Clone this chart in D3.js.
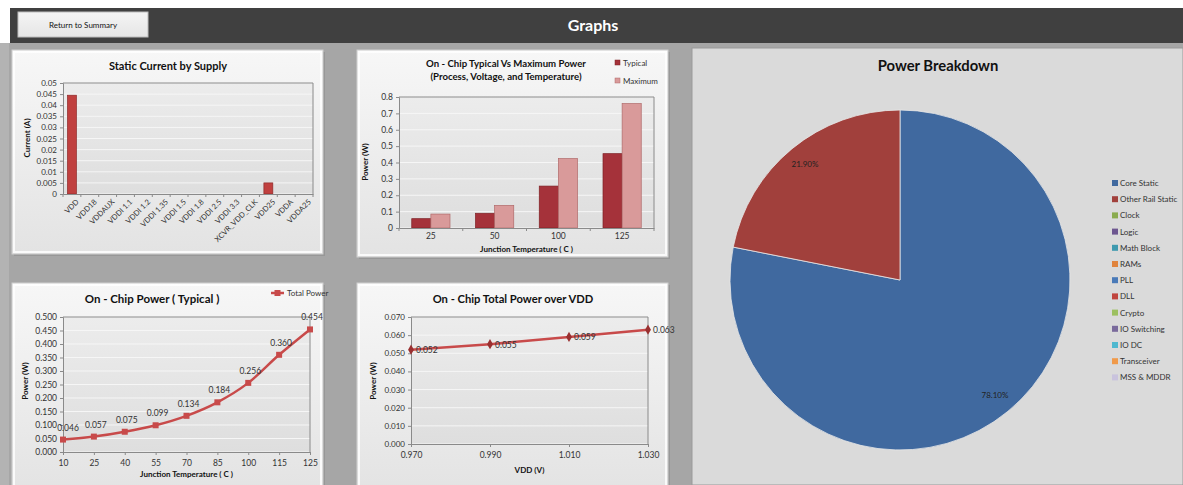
<!DOCTYPE html>
<html><head><meta charset="utf-8">
<script src="https://cdn.jsdelivr.net/npm/d3@7"></script>
<style>
body{margin:0;background:#fff;overflow:hidden}
svg{display:block;font-family:Lato,"Open Sans",sans-serif}
</style></head>
<body><svg id="c" width="1183" height="485"></svg>
<script>
// ---------- DATA ----------
const supplyCategories = ["VDD","VDD18","VDDAUX","VDDI 1.1","VDDI 1.2","VDDI 1.35","VDDI 1.5","VDDI 1.8","VDDI 2.5","VDDI 3.3","XCVR_VDD_CLK","VDD25","VDDA","VDDA25"];
const supplyCurrent = [0.0445,0,0,0,0,0,0,0,0,0,0,0.005,0,0];
const currentTicks = [0,0.005,0.01,0.015,0.02,0.025,0.03,0.035,0.04,0.045,0.05];

const pvtTemps = ["25","50","100","125"];
const pvtTypical = [0.057,0.09,0.256,0.454];
const pvtMaximum = [0.085,0.138,0.424,0.76];
const pvtTicks = [0,0.1,0.2,0.3,0.4,0.5,0.6,0.7,0.8];

const typTemps = ["10","25","40","55","70","85","100","115","125"];
const typPower = [0.046,0.057,0.075,0.099,0.134,0.184,0.256,0.360,0.454];
const typTicks = [0,0.05,0.1,0.15,0.2,0.25,0.3,0.35,0.4,0.45,0.5];

const vddVolts = [0.970,0.990,1.010,1.030];
const vddPower = [0.052,0.055,0.059,0.063];
const vddTicks = [0,0.01,0.02,0.03,0.04,0.05,0.06,0.07];

const breakdownNames = ["Core Static","Other Rail Static","Clock","Logic","Math Block","RAMs","PLL","DLL","Crypto","IO Switching","IO DC","Transceiver","MSS & MDDR"];
const breakdownValues = [78.1,21.9,0,0,0,0,0,0,0,0,0,0,0];
const breakdownColors = ["#40699f","#a1403c","#8aab4e","#6d5690","#3f9aaf","#e0843e","#4a7ab8","#c0453f","#9cc060","#7a6a9c","#4fb8cf","#f09a4a","#c9c3dd"];

// ---------- SETUP ----------
const svg = d3.select("#c");
const defs = svg.append("defs");
function grad(id, c1, c2){
  const g = defs.append("linearGradient").attr("id",id).attr("x1",0).attr("y1",0).attr("x2",0).attr("y2",1);
  g.append("stop").attr("offset",0).attr("stop-color",c1);
  g.append("stop").attr("offset",1).attr("stop-color",c2);
}
grad("pan","#f7f7f7","#e3e3e3");
grad("plot","#ececec","#dedede");
grad("btn","#f4f4f4","#e6e6e6");

// page background
svg.append("rect").attr("width",1183).attr("height",485).attr("fill","#fff");
svg.append("rect").attr("x",0).attr("y",43).attr("width",1183).attr("height",442).attr("fill","#a6a6a6");
svg.append("rect").attr("x",0).attr("y",43).attr("width",9).attr("height",442).attr("fill","#b3b3b3");
// header bar
svg.append("rect").attr("x",10).attr("y",8).attr("width",1173).attr("height",35).attr("fill","#404040");
svg.append("rect").attr("x",18).attr("y",12).attr("width",130).attr("height",25).attr("fill","url(#btn)").attr("stroke","#bdbdbd");
svg.append("text").attr("x",83).attr("y",28).attr("text-anchor","middle").attr("font-size",8).attr("fill","#111").text("Return to Summary");
svg.append("text").attr("x",593).attr("y",31).attr("text-anchor","middle").attr("font-size",16).attr("font-weight","bold").attr("fill","#fff").text("Graphs");

function panel(x,y,w,h){
  svg.append("rect").attr("x",x+2).attr("y",y+2).attr("width",w).attr("height",h).attr("fill","#888").attr("opacity",0.5);
  svg.append("rect").attr("x",x).attr("y",y).attr("width",w).attr("height",h).attr("fill","url(#pan)").attr("stroke","#cfcfcf");
  svg.append("rect").attr("x",x+2).attr("y",y+2).attr("width",w-4).attr("height",h-4).attr("fill","none").attr("stroke","#fff").attr("stroke-width",2).attr("opacity",0.8);
}
panel(12,50,311,204);
panel(357,50,311,207);
panel(12,283,311,210);
panel(357,283,311,210);

function plotArea(x0,x1,y0,y1){
  svg.append("rect").attr("x",x0).attr("y",y0).attr("width",x1-x0).attr("height",y1-y0).attr("fill","url(#plot)");
}
function yAxis(scale, ticks, x0, x1, fmt, fs){
  const g = svg.append("g");
  g.selectAll("line.grid").data(ticks).join("line").attr("class","grid")
    .attr("x1",x0).attr("x2",x1).attr("y1",d=>scale(d)).attr("y2",d=>scale(d))
    .attr("stroke","#f6f6f6").attr("stroke-width",1);
  const ax = svg.append("g").attr("transform",`translate(${x0},0)`)
    .call(d3.axisLeft(scale).tickValues(ticks).tickFormat(fmt).tickSize(3).tickPadding(3));
  ax.select(".domain").attr("stroke","#8a8a8a");
  ax.selectAll(".tick line").attr("stroke","#8a8a8a");
  ax.selectAll("text").attr("font-size",fs).attr("fill","#333").attr("font-family","Lato, sans-serif");
  return ax;
}
function frame(x0,x1,y0,y1){
  svg.append("path").attr("d",`M${x0},${y0}H${x1}V${y1}`).attr("fill","none").attr("stroke","#8a8a8a");
}
function title(x,y,t,fs){
  svg.append("text").attr("x",x).attr("y",y).attr("text-anchor","middle").attr("font-size",fs).attr("font-weight","bold").attr("fill","#111").text(t);
}
function yTitle(x,y,t){
  svg.append("text").attr("transform",`translate(${x},${y}) rotate(-90)`).attr("text-anchor","middle")
    .attr("font-size",8).attr("font-weight","bold").attr("fill","#111").text(t);
}

// ---------- CHART 1: Static Current by Supply ----------
{
  const X0=63,X1=313,Y0=83,Y1=194;
  plotArea(X0,X1,Y0,Y1);
  const y = d3.scaleLinear().domain([0,0.05]).range([Y1,Y0]);
  const x = d3.scaleBand().domain(supplyCategories).range([X0,X1]).paddingInner(0.5).paddingOuter(0.25);
  yAxis(y,currentTicks,X0,X1,d=>d3.format("")(+d.toFixed(3)),8);
  frame(X0,X1,Y0,Y1);
  svg.append("g").selectAll("rect").data(supplyCategories).join("rect")
    .attr("x",d=>x(d)).attr("width",x.bandwidth())
    .attr("y",(d,i)=>y(supplyCurrent[i])).attr("height",(d,i)=>Y1-y(supplyCurrent[i]))
    .attr("fill","#c0403f").attr("stroke","#8e2a2a").attr("stroke-width",0.7);
  const xa = svg.append("g").attr("transform",`translate(0,${Y1})`).call(d3.axisBottom(x).tickSize(0).tickPadding(4));
  xa.select(".domain").attr("stroke","#8a8a8a");
  const step = x.step();
  xa.selectAll(".tk").data(d3.range(supplyCategories.length+1)).join("line")
    .attr("x1",i=>X0+i*step).attr("x2",i=>X0+i*step).attr("y1",0).attr("y2",3).attr("stroke","#8a8a8a");
  xa.selectAll(".tick text").attr("font-size",7.5).attr("fill","#333").attr("font-family","Lato, sans-serif")
    .attr("text-anchor","end").attr("dy","0.3em").attr("transform","translate(3,4) rotate(-45)");
  title(168,70,"Static Current by Supply",11);
  yTitle(30,138,"Current (A)");
}

// ---------- CHART 2: Typical vs Maximum ----------
{
  const X0=399,X1=654,Y0=97,Y1=228;
  plotArea(X0,X1,Y0,Y1);
  const y = d3.scaleLinear().domain([0,0.8]).range([Y1,Y0]);
  const x = d3.scaleBand().domain(pvtTemps).range([X0,X1]).paddingInner(0.4).paddingOuter(0.2);
  const xs = d3.scaleBand().domain(["Typical","Maximum"]).range([0,x.bandwidth()]);
  yAxis(y,pvtTicks,X0,X1,d=>d3.format("")(+d.toFixed(1)),8.5);
  frame(X0,X1,Y0,Y1);
  const series = [["Typical",pvtTypical,"#a5323a","#7e2226"],["Maximum",pvtMaximum,"#d99a9a","#b06a6a"]];
  series.forEach(([name,vals,fill,stroke])=>{
    svg.append("g").selectAll("rect").data(pvtTemps).join("rect")
      .attr("x",d=>x(d)+xs(name)).attr("width",xs.bandwidth())
      .attr("y",(d,i)=>y(vals[i])).attr("height",(d,i)=>Y1-y(vals[i]))
      .attr("fill",fill).attr("stroke",stroke).attr("stroke-width",0.7);
  });
  const xa = svg.append("g").attr("transform",`translate(0,${Y1})`).call(d3.axisBottom(x).tickSize(0).tickPadding(5));
  xa.select(".domain").attr("stroke","#8a8a8a");
  xa.selectAll(".tk").data(d3.range(pvtTemps.length+1)).join("line")
    .attr("x1",i=>X0+i*(X1-X0)/pvtTemps.length).attr("x2",i=>X0+i*(X1-X0)/pvtTemps.length).attr("y1",0).attr("y2",3).attr("stroke","#8a8a8a");
  xa.selectAll(".tick text").attr("font-size",8.5).attr("fill","#333").attr("font-family","Lato, sans-serif");
  title(506,67,"On - Chip Typical Vs Maximum Power",9.6);
  title(506,80,"(Process, Voltage, and Temperature)",9.6);
  svg.append("text").attr("x",(X0+X1)/2).attr("y",252).attr("text-anchor","middle").attr("font-size",8).attr("font-weight","bold").attr("fill","#111").text("Junction Temperature ( C )");
  yTitle(368,162,"Power (W)");
  series.forEach(([name,vals,fill,stroke],i)=>{
    svg.append("rect").attr("x",615).attr("y",60+i*18).attr("width",5).attr("height",5).attr("fill",fill).attr("stroke",stroke).attr("stroke-width",0.5);
    svg.append("text").attr("x",623).attr("y",66+i*18).attr("font-size",8).attr("fill","#333").text(name);
  });
}

// ---------- CHART 3: On-Chip Power (Typical) ----------
{
  const X0=63,X1=310,Y0=317,Y1=452;
  plotArea(X0,X1,Y0,Y1);
  const y = d3.scaleLinear().domain([0,0.5]).range([Y1,Y0]);
  const x = d3.scalePoint().domain(typTemps).range([X0,X1]).padding(0);
  yAxis(y,typTicks,X0,X1,d3.format(".3f"),8.5);
  frame(X0,X1,Y0,Y1);
  const xa = svg.append("g").attr("transform",`translate(0,${Y1})`).call(d3.axisBottom(x).tickSize(3).tickPadding(5));
  xa.select(".domain").attr("stroke","#8a8a8a");
  xa.selectAll(".tick line").attr("stroke","#8a8a8a");
  xa.selectAll(".tick text").attr("font-size",8.5).attr("fill","#333").attr("font-family","Lato, sans-serif");
  const line = d3.line().x((d,i)=>x(typTemps[i])).y(d=>y(d)).curve(d3.curveMonotoneX);
  svg.append("path").datum(typPower).attr("d",line).attr("fill","none").attr("stroke","#c84a4a").attr("stroke-width",2.5);
  svg.append("g").selectAll("rect").data(typPower).join("rect")
    .attr("x",(d,i)=>x(typTemps[i])-3).attr("y",d=>y(d)-3).attr("width",6).attr("height",6).attr("fill","#c84a4a");
  svg.append("g").selectAll("text").data(typPower).join("text")
    .attr("x",(d,i)=>x(typTemps[i])+(i===0?5:2)).attr("y",d=>y(d)-9).attr("text-anchor","middle")
    .attr("font-size",8.5).attr("fill","#333").text(d=>d3.format(".3f")(d));
  title(152,303,"On - Chip Power ( Typical )",11.5);
  svg.append("text").attr("x",(X0+X1)/2).attr("y",477).attr("text-anchor","middle").attr("font-size",8).attr("font-weight","bold").attr("fill","#111").text("Junction Temperature ( C )");
  yTitle(28,381,"Power (W)");
  svg.append("line").attr("x1",271).attr("x2",284).attr("y1",293).attr("y2",293).attr("stroke","#c84a4a").attr("stroke-width",2.5);
  svg.append("rect").attr("x",274.5).attr("y",290).attr("width",6).attr("height",6).attr("fill","#c84a4a");
  svg.append("text").attr("x",287).attr("y",296).attr("font-size",8).attr("fill","#333").text("Total Power");
}

// ---------- CHART 4: Total Power over VDD ----------
{
  const X0=411,X1=648,Y0=317,Y1=444;
  plotArea(X0,X1,Y0,Y1);
  const y = d3.scaleLinear().domain([0,0.07]).range([Y1,Y0]);
  const x = d3.scaleLinear().domain([0.97,1.03]).range([X0,X1]);
  yAxis(y,vddTicks,X0,X1,d3.format(".3f"),8);
  frame(X0,X1,Y0,Y1);
  const xa = svg.append("g").attr("transform",`translate(0,${Y1})`).call(d3.axisBottom(x).tickValues(vddVolts).tickFormat(d3.format(".3f")).tickSize(3).tickPadding(5));
  xa.select(".domain").attr("stroke","#8a8a8a");
  xa.selectAll(".tick line").attr("stroke","#8a8a8a");
  xa.selectAll(".tick text").attr("font-size",8.5).attr("fill","#333").attr("font-family","Lato, sans-serif");
  const line = d3.line().x((d,i)=>x(vddVolts[i])).y(d=>y(d));
  svg.append("path").datum(vddPower).attr("d",line).attr("fill","none").attr("stroke","#c84a4a").attr("stroke-width",2.5);
  const sym = d3.symbol().type(d3.symbolDiamond).size(30);
  svg.append("g").selectAll("path").data(vddPower).join("path")
    .attr("transform",(d,i)=>`translate(${x(vddVolts[i])},${y(d)})`).attr("d",sym).attr("fill","#9a3030");
  svg.append("g").selectAll("text").data(vddPower).join("text")
    .attr("x",(d,i)=>x(vddVolts[i])+5).attr("y",d=>y(d)+3.5)
    .attr("font-size",8.5).attr("fill","#333").text(d=>d3.format(".3f")(d));
  title(513,303,"On - Chip Total Power over VDD",11.2);
  svg.append("text").attr("x",(X0+X1)/2).attr("y",473).attr("text-anchor","middle").attr("font-size",8).attr("font-weight","bold").attr("fill","#111").text("VDD (V)");
  yTitle(376,381,"Power (W)");
}

// ---------- CHART 5: Power Breakdown pie ----------
{
  svg.append("rect").attr("x",692).attr("y",48).attr("width",491).attr("height",437).attr("fill","#dadada").attr("stroke","#9a9a9a");
  const cx=900, cy=280, r=170;
  const pie = d3.pie().sort(null).value(d=>d)(breakdownValues);
  const arc = d3.arc().innerRadius(0).outerRadius(r);
  const g = svg.append("g").attr("transform",`translate(${cx},${cy})`);
  g.selectAll("path").data(pie.filter(d=>d.value>0)).join("path").attr("d",arc)
    .attr("fill",d=>breakdownColors[d.index]).attr("stroke","#e8e8e8").attr("stroke-width",0.8);
  const la = d3.arc().innerRadius(r*0.88).outerRadius(r*0.88);
  g.selectAll("text").data(pie.filter(d=>d.value>0)).join("text")
    .attr("transform",d=>`translate(${la.centroid(d)})`).attr("text-anchor","middle").attr("dy","0.35em")
    .attr("font-size",8).attr("fill","#222").text(d=>d3.format(".2f")(d.value)+"%");
  title(938,71,"Power Breakdown",14.8);
  const lg = svg.append("g");
  breakdownNames.forEach((n,i)=>{
    const yy = 183 + i*16.2;
    lg.append("rect").attr("x",1112).attr("y",yy-3).attr("width",6).attr("height",6).attr("fill",breakdownColors[i]);
    lg.append("text").attr("x",1120).attr("y",yy+3).attr("font-size",8).attr("fill","#333").text(n);
  });
}
</script></body></html>
